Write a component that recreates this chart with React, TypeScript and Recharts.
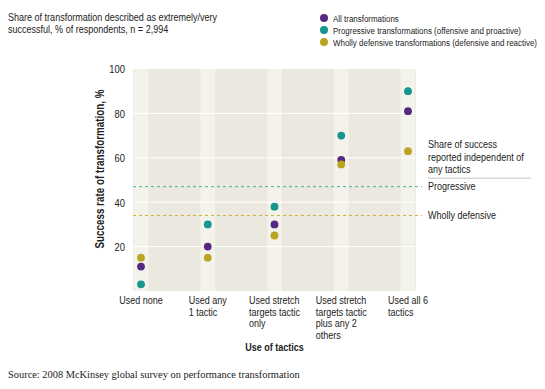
import React from 'react';
import {
  ScatterChart,
  Scatter,
  XAxis,
  YAxis,
  ReferenceArea,
  ReferenceLine,
  Legend,
} from 'recharts';

// ---------- data ----------
const categoryLabels: string[][] = [
  ['Used none'],
  ['Used any', '1 tactic'],
  ['Used stretch', 'targets tactic', 'only'],
  ['Used stretch', 'targets tactic', 'plus any 2', 'others'],
  ['Used all 6', 'tactics'],
];
const categoryIndex = [0, 1, 2, 3, 4];

const allValues = [11, 20, 30, 59, 81];
const progressiveValues = [3, 30, 38, 70, 90];
const defensiveValues = [15, 15, 25, 57, 63];

const progressiveBaseline = 47;
const defensiveBaseline = 34;

const yTicks = [20, 40, 60, 80, 100];
const gridValues = [20, 40, 60, 80];

const seriesNames = [
  'All transformations',
  'Progressive transformations (offensive and proactive)',
  'Wholly defensive transformations (defensive and reactive)',
];
const titleLines = [
  'Share of transformation described as extremely/very',
  'successful, % of respondents, n = 2,994',
];
const annotationLines = ['Share of success', 'reported independent of', 'any tactics'];
const progressiveLabel = 'Progressive';
const defensiveLabel = 'Wholly defensive';
const xAxisTitle = 'Use of tactics';
const yAxisTitle = 'Success rate of transformation, %';
const sourceText = 'Source: 2008 McKinsey global survey on performance transformation';

// ---------- styles ----------
const PURPLE = '#55297f';
const TEAL = '#16968f';
const GOLD = '#b9a521';
const seriesColors = [PURPLE, TEAL, GOLD];
const BG = '#ebe9df';
const STRIPE = '#f3f2eb';
const TEXT = '#222';
const FONT = '"Liberation Sans", Arial, sans-serif';
const SERIF = '"Liberation Serif", "DejaVu Serif", serif';
const SX = 0.82; // condensed look

const toPoints = (vals: number[]) => vals.map((v, i) => ({ x: categoryIndex[i], y: v }));
const allData = toPoints(allValues);
const progData = toPoints(progressiveValues);
const defData = toPoints(defensiveValues);

let ctx: CanvasRenderingContext2D | null = null;
function textWidth(s: string, size: number): number {
  if (!ctx) ctx = document.createElement('canvas').getContext('2d');
  if (!ctx) return s.length * size * 0.5 * SX;
  ctx.font = `${size}px ${FONT}`;
  return ctx.measureText(s).width * SX;
}

// condensed SVG text
const CText = (p: {
  x: number;
  y: number;
  size: number;
  anchor?: 'start' | 'middle' | 'end';
  bold?: boolean;
  rotate?: number;
  children: React.ReactNode;
}) => (
  <text
    transform={`translate(${p.x},${p.y})${p.rotate ? ` rotate(${p.rotate})` : ''} scale(${SX},1)`}
    x={0}
    y={0}
    textAnchor={p.anchor || 'start'}
    dominantBaseline="central"
    fontFamily={FONT}
    fontSize={p.size}
    fontWeight={p.bold ? 'bold' : 'normal'}
    fill={TEXT}
  >
    {p.children}
  </text>
);

const TICK_FS = 11;
const LINE_H = 11.7;

const XTick = (props: any) => {
  const { x, y, payload } = props;
  const lines = categoryLabels[payload.value] || [];
  const w = Math.max(...lines.map((l) => textWidth(l, TICK_FS)));
  const left = x - w / 2;
  return (
    <g>
      {lines.map((l, i) => (
        <CText key={i} x={left} y={y + 9 + i * LINE_H} size={TICK_FS}>
          {l}
        </CText>
      ))}
    </g>
  );
};

const YTick = (props: any) => {
  const { x, y, payload } = props;
  return (
    <CText x={x} y={y} size={11.5} anchor="end">
      {payload.value}
    </CText>
  );
};

const XTitle = (props: any) => {
  const { viewBox } = props;
  return (
    <CText x={viewBox.x + viewBox.width / 2} y={347} size={11} anchor="middle" bold>
      {xAxisTitle}
    </CText>
  );
};

const YTitle = (props: any) => {
  const { viewBox } = props;
  const cx = viewBox.x + 7;
  const cy = viewBox.y + viewBox.height / 2 - 11;
  return (
    <CText x={cx} y={cy} size={12} anchor="middle" bold rotate={-90}>
      {yAxisTitle}
    </CText>
  );
};

const ProgressiveLabel = (props: any) => {
  const { viewBox } = props;
  const x = viewBox.x + viewBox.width + 6;
  const y = viewBox.y;
  return (
    <g>
      {annotationLines.map((l, i) => (
        <CText key={i} x={x} y={y - 42 + i * 12.2} size={11}>
          {l}
        </CText>
      ))}
      <line x1={x} x2={x + 103} y1={y - 8.5} y2={y - 8.5} stroke="#c4c4c4" strokeWidth={1} />
      <CText x={x} y={y} size={11}>
        {progressiveLabel}
      </CText>
    </g>
  );
};

const DefensiveLabel = (props: any) => {
  const { viewBox } = props;
  const x = viewBox.x + viewBox.width + 6;
  return (
    <CText x={x} y={viewBox.y} size={11}>
      {defensiveLabel}
    </CText>
  );
};

const dot = (color: string) => (p: any) => <circle cx={p.cx} cy={p.cy} r={3.9} fill={color} />;

const LegendContent = (props: any) => {
  const { payload } = props;
  return (
    <div style={{ fontFamily: FONT, fontSize: 9.7, color: TEXT }}>
      {(payload || []).map((p: any, i: number) => (
        <div key={i} style={{ display: 'flex', alignItems: 'center', height: 12, whiteSpace: 'nowrap' }}>
          <span
            style={{
              display: 'inline-block',
              flex: '0 0 auto',
              width: 8,
              height: 8,
              borderRadius: 4,
              background: seriesColors[i] || p.color,
              marginRight: 5,
            }}
          />
          <span style={{ display: 'inline-block', transform: `scaleX(${SX})`, transformOrigin: 'left center' }}>
            {p.value}
          </span>
        </div>
      ))}
    </div>
  );
};

const X_MIN = -0.12;
const X_MAX = 4.12;

export default function App() {
  return (
    <div style={{ position: 'absolute', left: 0, top: 0, width: 545, height: 389, background: '#fff' }}>
      <div
        style={{
          position: 'absolute',
          left: 8,
          top: 12,
          fontFamily: FONT,
          fontSize: 11,
          lineHeight: '11.8px',
          color: TEXT,
          whiteSpace: 'nowrap',
          transform: `scaleX(${SX})`,
          transformOrigin: 'left top',
        }}
      >
        {titleLines.map((l, i) => (
          <div key={i}>{l}</div>
        ))}
      </div>
      <div style={{ position: 'absolute', left: 0, top: 0 }}>
        <ScatterChart width={545} height={389} margin={{ top: 69, right: 129, bottom: 36, left: 93 }}>
          <XAxis
            type="number"
            dataKey="x"
            domain={[X_MIN, X_MAX]}
            ticks={categoryIndex}
            interval={0}
            axisLine={false}
            tickLine={false}
            tickSize={0}
            tickMargin={0}
            height={62}
            tick={<XTick />}
            label={<XTitle />}
            allowDataOverflow
          />
          <YAxis
            type="number"
            dataKey="y"
            domain={[0, 100]}
            ticks={yTicks}
            interval={0}
            axisLine={false}
            tickLine={false}
            tickSize={0}
            tickMargin={8}
            width={40}
            tick={<YTick />}
            label={<YTitle />}
            allowDataOverflow
          />
          <ReferenceArea x1={X_MIN} x2={X_MAX} y1={0} y2={100} fill={BG} fillOpacity={1} stroke="none" />
          {categoryIndex.map((c) => (
            <ReferenceArea
              key={c}
              x1={c - 0.11}
              x2={c + 0.11}
              y1={0}
              y2={100}
              fill={STRIPE}
              fillOpacity={1}
              stroke="none"
            />
          ))}
          {gridValues.map((g) => (
            <ReferenceLine key={g} y={g} stroke="#ffffff" strokeWidth={1} />
          ))}
          <ReferenceLine
            segment={[
              { x: X_MIN, y: progressiveBaseline },
              { x: 4.21, y: progressiveBaseline },
            ]}
            ifOverflow="visible"
            stroke="#4aaea4"
            strokeDasharray="3 3"
            strokeWidth={1}
            label={<ProgressiveLabel />}
          />
          <ReferenceLine
            segment={[
              { x: X_MIN, y: defensiveBaseline },
              { x: 4.21, y: defensiveBaseline },
            ]}
            ifOverflow="visible"
            stroke="#c9b238"
            strokeDasharray="3 3"
            strokeWidth={1}
            label={<DefensiveLabel />}
          />
          <Scatter name={seriesNames[0]} data={allData} fill={PURPLE} shape={dot(PURPLE)} isAnimationActive={false} />
          <Scatter name={seriesNames[1]} data={progData} fill={TEAL} shape={dot(TEAL)} isAnimationActive={false} />
          <Scatter name={seriesNames[2]} data={defData} fill={GOLD} shape={dot(GOLD)} isAnimationActive={false} />
          <Legend
            layout="vertical"
            align="center"
            verticalAlign="middle"
            content={<LegendContent />}
            wrapperStyle={{ left: 320, top: 12, width: 225, height: 36 }}
          />
        </ScatterChart>
      </div>
      <div
        style={{
          position: 'absolute',
          left: 8,
          top: 369,
          fontFamily: SERIF,
          fontSize: 10.4,
          lineHeight: '12px',
          color: TEXT,
          whiteSpace: 'nowrap',
        }}
      >
        {sourceText}
      </div>
    </div>
  );
}
